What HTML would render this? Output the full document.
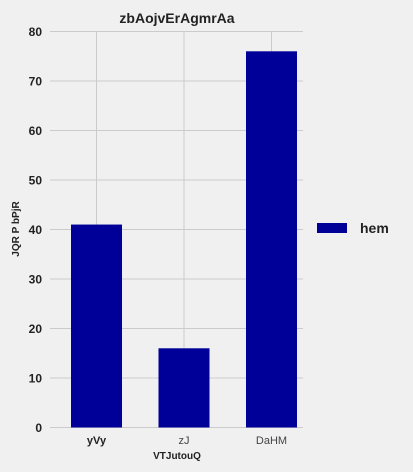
<!DOCTYPE html>
<html><head><meta charset="utf-8"><style>
body{margin:0;background:#f0f0f0;}
svg{display:block;font-family:"Liberation Sans",sans-serif;}
</style></head><body>
<svg width="413" height="472">
<rect width="413" height="472" fill="#f0f0f0"/>
<g id="grid"></g><g id="bars"></g><g id="ticks"></g>
<text x="177" y="23" text-anchor="middle" font-size="14" font-weight="bold" fill="#222">zbAojvErAgmrAa</text>
<text x="177" y="459" text-anchor="middle" font-size="10" font-weight="bold" fill="#222">VTJutouQ</text>
<text transform="translate(19,229) rotate(-90)" text-anchor="middle" font-size="10" font-weight="bold" fill="#222">JQR  P bPjR</text>
<g>
<rect x="317" y="223" width="30" height="10" fill="#000099"/>
<text x="360" y="233" font-size="14" font-weight="bold" fill="#222">hem</text>
</g>
</svg>
<script>
const categories=["yVy","zJ","DaHM"];
const values=[41,16,76];
const yTicks=[0,10,20,30,40,50,60,70,80];
const NS="http://www.w3.org/2000/svg";
const yS=v=>427.5-v*4.95;
const xS=i=>96.5+i*87.5;
const L=50,R=303,bw=51;
function mk(t,a,p){const e=document.createElementNS(NS,t);for(const k in a)e.setAttribute(k,a[k]);p.appendChild(e);return e;}
const g=document.getElementById('grid'),b=document.getElementById('bars'),tk=document.getElementById('ticks');
yTicks.forEach(v=>{
 const l=mk('line',{x1:L,x2:R,y1:yS(v),y2:yS(v),stroke:'#cbcbcb','stroke-width':1},g);
 
 
 const t=mk('text',{x:42,y:yS(v)+4.5,'text-anchor':'end','font-size':12,'font-weight':'bold',fill:'#222'},tk);
 t.textContent=v;
 
 
});
categories.forEach((c,i)=>{
 const l=mk('line',{x1:xS(i),x2:xS(i),y1:yS(80),y2:yS(0),stroke:'#cbcbcb','stroke-width':1},g);
 
 
 const r=mk('rect',{x:xS(i)-bw/2,y:yS(values[i]),width:bw,height:yS(0)-yS(values[i]),fill:'#000099'},b);
 
 
 const t=mk('text',{x:xS(i),y:444,'text-anchor':'middle','font-size':11,'font-weight':i==0?'bold':'normal',fill:i==0?'#222':'#444'},tk);
 t.textContent=c;
 
 
});
</script>
</body></html>
